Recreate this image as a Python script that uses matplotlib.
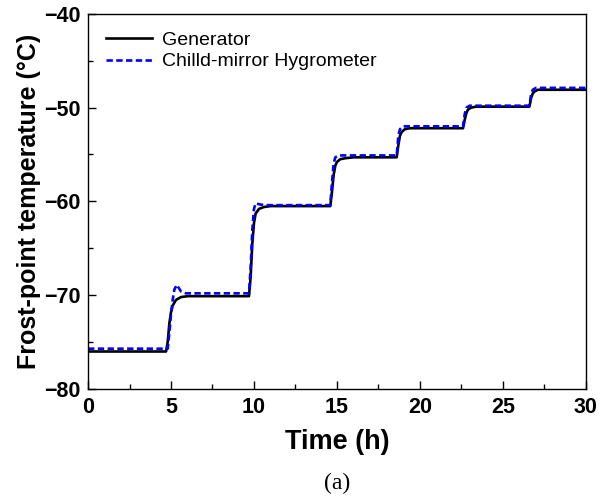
import numpy as np
import matplotlib.pyplot as plt

plt.rcParams['font.family'] = ['Liberation Sans', 'DejaVu Sans']

# generator (solid black)
gen_t = [0, 4.7, 4.8, 4.9, 5.0, 5.1, 5.3, 5.6, 6.0, 9.7, 9.8, 9.9, 10.0, 10.1, 10.3, 10.6, 11.0,
         14.6, 14.7, 14.8, 14.9, 15.0, 15.2, 15.5, 16.0, 18.6, 18.7, 18.8, 18.9, 19.1, 19.4, 19.8,
         22.6, 22.7, 22.8, 22.9, 23.1, 23.4, 23.8, 26.6, 26.7, 26.8, 26.9, 27.1, 27.4, 27.8, 30]
gen_v = [-76.0, -76.0, -75.0, -73.0, -71.8, -71.1, -70.5, -70.2, -70.1, -70.1, -68.0, -64.5, -62.3,
         -61.3, -60.8, -60.6, -60.5, -60.5, -59.0, -57.2, -56.2, -55.8, -55.5, -55.4, -55.3, -55.3,
         -54.0, -53.0, -52.6, -52.3, -52.2, -52.2, -52.2, -51.3, -50.6, -50.2, -50.0, -49.9, -49.9,
         -49.9, -49.0, -48.5, -48.3, -48.1, -48.1, -48.1, -48.1]

# chilled-mirror hygrometer (dashed blue)
hyg_t = [0, 4.8, 4.9, 5.0, 5.1, 5.2, 5.35, 5.6, 5.9, 9.7, 9.8, 9.9, 10.0, 10.1, 10.3, 10.6,
         14.6, 14.7, 14.8, 14.9, 15.1, 15.4, 18.6, 18.7, 18.8, 19.0, 19.3, 22.6, 22.7, 22.8, 23.0,
         23.3, 26.6, 26.7, 26.8, 27.0, 27.3, 30]
hyg_v = [-75.7, -75.7, -74.0, -72.0, -70.5, -69.4, -68.9, -69.6, -69.8, -69.8, -67.0, -63.0, -60.8,
         -60.2, -60.3, -60.4, -60.4, -58.0, -56.0, -55.3, -55.1, -55.1, -55.1, -53.0, -52.3, -52.0,
         -52.0, -52.0, -50.7, -50.0, -49.8, -49.8, -49.8, -48.6, -48.1, -47.9, -47.9, -47.9]

fig = plt.figure(figsize=(5.99, 4.99), dpi=100)
ax = fig.add_axes([0.147, 0.2204, 0.831, 0.752])

ax.plot(gen_t, gen_v, color='black', lw=1.9, label='Generator')
ax.plot(hyg_t, hyg_v, color='#0000ff', lw=1.9, ls=(0, (2.4, 1.3)), label='Chilld-mirror Hygrometer')

ax.set_xlim(0, 30)
ax.set_ylim(-80, -40)
ax.set_xticks(np.arange(0, 31, 5))
ax.set_xticks(np.arange(2.5, 30, 5), minor=True)
ax.set_yticks(np.arange(-80, -39, 10))
ax.set_yticks(np.arange(-75, -40, 10), minor=True)
ax.tick_params(which='major', direction='in', length=6, width=1, labelsize=15.5, pad=5.5)
ax.tick_params(which='minor', direction='in', length=3.5, width=1)
for lab in ax.get_xticklabels() + ax.get_yticklabels():
    lab.set_fontweight('bold')
for s in ax.spines.values():
    s.set_linewidth(1)

ax.set_xlabel('Time (h)', fontsize=19.5, fontweight='bold', labelpad=8)
ax.set_ylabel('Frost-point temperature (\u00b0C)', fontsize=18, fontweight='bold', labelpad=2)

ax.legend(loc='upper left', frameon=False, fontsize=14, handlelength=2.4,
          borderaxespad=0.5, labelspacing=0.2, handletextpad=0.5)

fig.text(0.5 * (0.147 + 0.978), 0.032, '(a)', ha='center', va='center',
         fontsize=17, family='Liberation Serif')

fig.savefig('out.png', dpi=100)
